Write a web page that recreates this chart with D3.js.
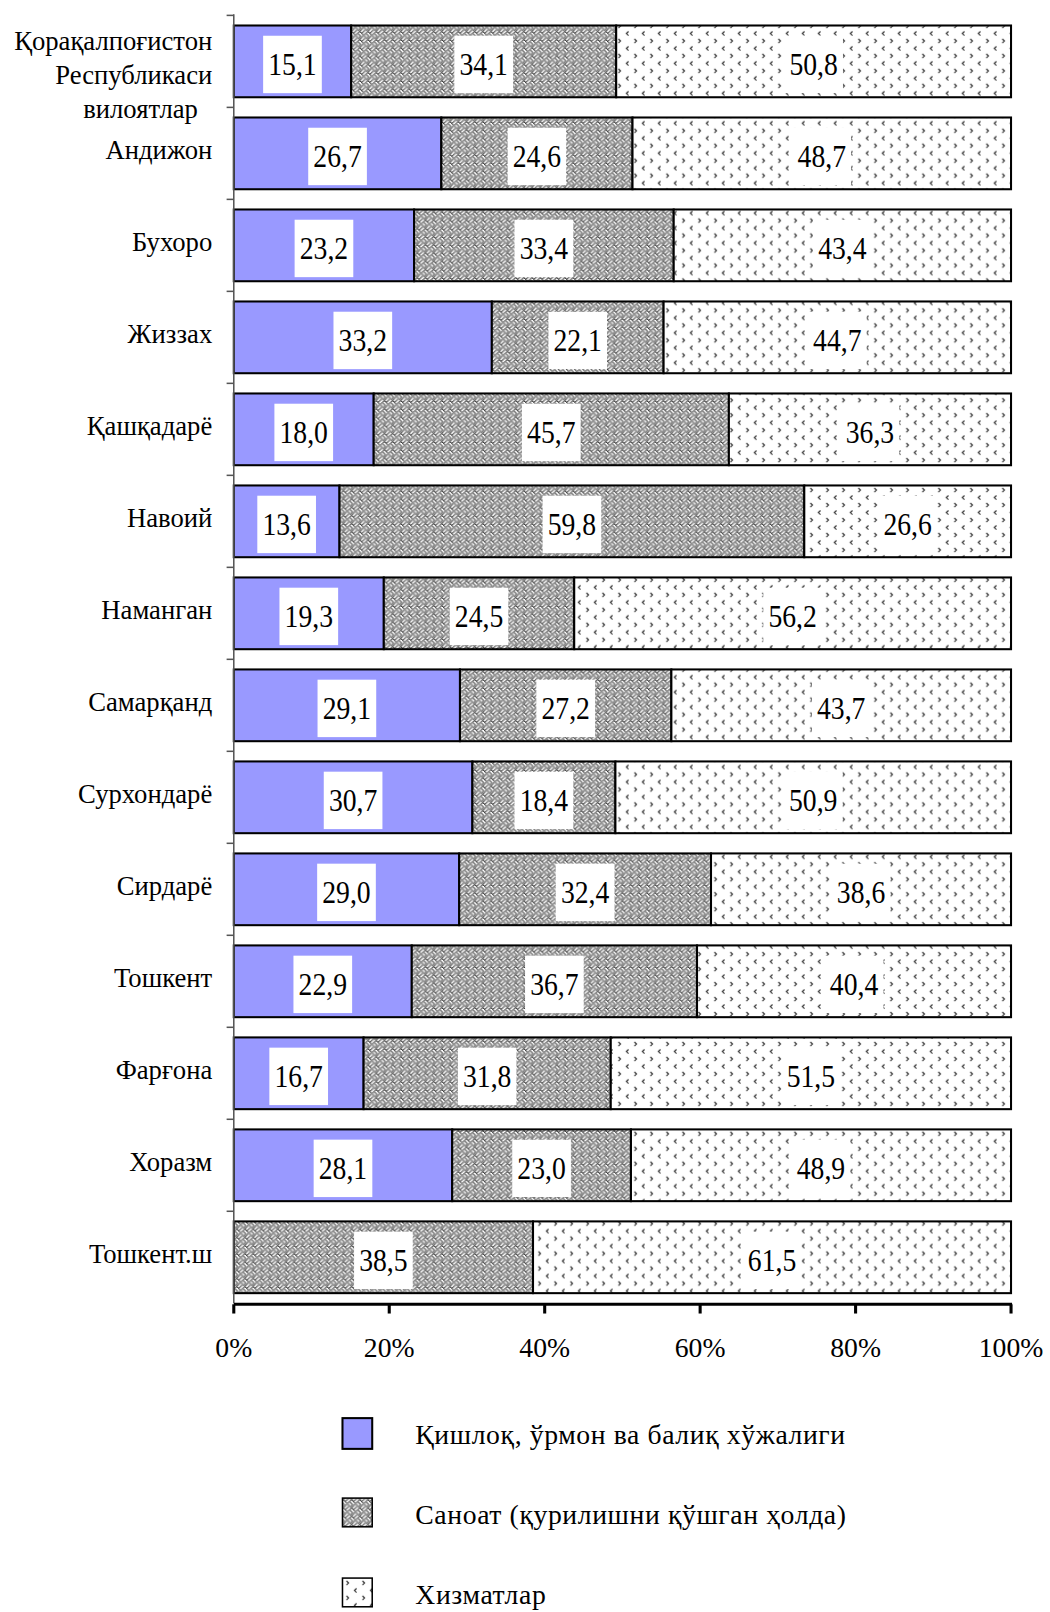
<!DOCTYPE html>
<html><head><meta charset="utf-8">
<script src="https://cdn.jsdelivr.net/npm/d3@7"></script>
<style>body{margin:0;background:#fff}svg{display:block}</style>
</head><body>
<script>
const regions = ["Қорақалпоғистон\nРеспубликаси","Андижон","Бухоро","Жиззах","Қашқадарё","Навоий","Наманган","Самарқанд","Сурхондарё","Сирдарё","Тошкент","Фарғона","Хоразм","Тошкент.ш"];
const agri = [15.1,26.7,23.2,33.2,18.0,13.6,19.3,29.1,30.7,29.0,22.9,16.7,28.1,0];
const industry = [34.1,24.6,33.4,22.1,45.7,59.8,24.5,27.2,18.4,32.4,36.7,31.8,23.0,38.5];
const services = [50.8,48.7,43.4,44.7,36.3,26.6,56.2,43.7,50.9,38.6,40.4,51.5,48.9,61.5];
const seriesNames = ["Қишлоқ, ўрмон ва балиқ хўжалиги","Саноат (қурилишни қўшган ҳолда)","Хизматлар"];
const xTicks = [0,20,40,60,80,100];
const axisTitle = "вилоятлар";

const W=1050,H=1612;
const svg0=d3.select("body").append("svg").attr("width",W).attr("height",H);
const font="'Liberation Serif','Times New Roman',serif";
const defs=svg0.append("defs");
const svg=svg0.append("g").attr("transform","scale("+(1050/1024)+")");

// weave pattern
const pw=defs.append("pattern").attr("id","weave").attr("patternUnits","userSpaceOnUse").attr("width",8).attr("height",8);
pw.append("rect").attr("width",8).attr("height",8).attr("fill","#fff");
const weaveBits=["X...X...",".X.X.X..","..X...X.",".X.X...X","X...X.X.","...X.X.X","..X...X.",".X...X.X"];
weaveBits.forEach((r,j)=>{for(let i=0;i<8;i++){if(r[i]==="X")pw.append("rect").attr("x",i).attr("y",j).attr("width",1.05).attr("height",1.05).attr("fill","#3a3a3a");}});
weaveBits.forEach((r,j)=>{for(let i=0;i<8;i++){if(r[i]==="X"&&(i+j)%2===0)pw.append("rect").attr("x",(i+1)%8).attr("y",j).attr("width",1).attr("height",1).attr("fill","#888");}});

// services pattern
const ps=defs.append("pattern").attr("id","dots").attr("patternUnits","userSpaceOnUse").attr("width",15.6).attr("height",14.6);
ps.append("rect").attr("width",15.6).attr("height",14.6).attr("fill","#fff");
ps.append("path").attr("d","M4.5,1.5 L2.5,3.5 L4.5,5.5").attr("fill","none").attr("stroke","#333").attr("stroke-width",1.2);
ps.append("path").attr("d","M10.3,8.8 L12.3,10.8 L10.3,12.8").attr("fill","none").attr("stroke","#333").attr("stroke-width",1.2);

const fills=["#9999FF","url(#weave)","url(#dots)"];

const x=d3.scaleLinear().domain([0,100]).range([228,986]);
const y=d3.scaleBand().domain(d3.range(regions.length)).range([15,1271]).paddingInner(0.22).paddingOuter(0.11);

const rows=regions.map((r,i)=>{const v=[agri[i],industry[i],services[i]];let c=0;return v.map((d,k)=>{const s={i,k,v:d,x0:c,x1:c+d};c+=d;return s;});}).flat();

// bars
svg.append("g").selectAll("rect").data(rows.filter(d=>d.v>0)).join("rect")
 .attr("x",d=>x(d.x0)).attr("width",d=>x(d.x1)-x(d.x0))
 .attr("y",d=>y(d.i)).attr("height",y.bandwidth())
 .attr("fill",d=>fills[d.k]).attr("stroke","#000").attr("stroke-width",2);

// labels
const lg=svg.append("g");
rows.filter(d=>d.v>0).forEach(d=>{
  const cx=(x(d.x0)+x(d.x1))/2, cy=y(d.i)+y.bandwidth()/2+3;
  const t=lg.append("text").attr("transform",`translate(${cx},${cy}) scale(1,1.12)`).attr("text-anchor","middle").attr("dominant-baseline","central")
    .attr("font-family",font).attr("font-size",27).attr("fill","#000").text(d3.format(".1f")(d.v).replace(".",","));
  const bb=t.node().getBBox();
  lg.insert("rect",()=>t.node()).attr("x",cx-bb.width/2-5).attr("y",cy-28).attr("width",bb.width+10).attr("height",56).attr("fill","#fff");
});

// y axis
const ya=svg.append("g");
ya.append("line").attr("x1",228).attr("x2",228).attr("y1",14).attr("y2",1271).attr("stroke","#555").attr("stroke-width",1.5);
const step=y.step();
d3.range(regions.length).forEach(i=>{
  const ty=15+i*step;
  ya.append("line").attr("x1",221).attr("x2",228).attr("y1",ty).attr("y2",ty).attr("stroke","#555").attr("stroke-width",1.5);
});
regions.forEach((r,i)=>{
  const lines=r.split("\n");
  const cy=y(i)+y.bandwidth()/2;
  lines.forEach((ln,j)=>{
    const off=lines.length>1?(j===0?-20:13):-3;
    ya.append("text").attr("x",207).attr("y",cy+off).attr("text-anchor","end").attr("dominant-baseline","central")
      .attr("font-family",font).attr("font-size",26).attr("fill","#000").text(ln);
  });
});
svg.append("text").attr("x",193).attr("y",106).attr("text-anchor","end").attr("dominant-baseline","central")
  .attr("font-family",font).attr("font-size",26).text(axisTitle);

// x axis
const xa=svg.append("g").attr("transform","translate(0,1272)");
xa.append("line").attr("x1",228).attr("x2",987).attr("stroke","#000").attr("stroke-width",3);
xTicks.forEach(t=>{
  xa.append("line").attr("x1",x(t)).attr("x2",x(t)).attr("y1",0).attr("y2",9).attr("stroke","#000").attr("stroke-width",3);
  xa.append("text").attr("x",x(t)).attr("y",42).attr("text-anchor","middle").attr("dominant-baseline","central")
    .attr("font-family",font).attr("font-size",27).text(t+"%");
});

// legend
const legY=[1398,1476,1554];
seriesNames.forEach((n,k)=>{
  svg.append("rect").attr("x",334).attr("y",legY[k]-15).attr("width",29).attr("height",k===0?30:28)
    .attr("fill",fills[k]).attr("stroke","#000").attr("stroke-width",k===0?2:1.5);
  svg.append("text").attr("x",405).attr("y",legY[k]+1).attr("dominant-baseline","central")
    .attr("font-family",font).attr("font-size",27).attr("letter-spacing",0.6).text(n);
});
</script>
</body></html>
